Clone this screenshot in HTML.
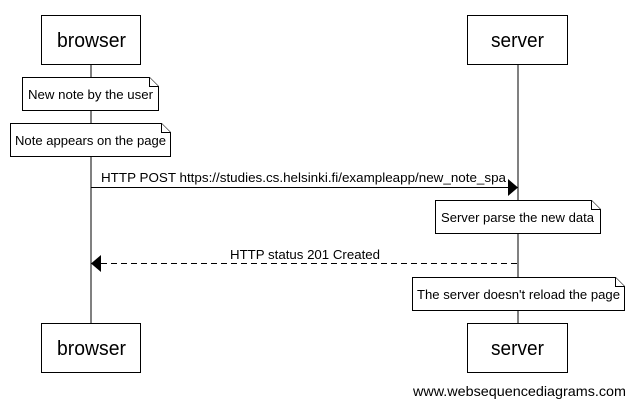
<!DOCTYPE html>
<html><head><style>
body{margin:0;background:#fff;}
</style></head><body>
<svg width="634" height="407" xmlns="http://www.w3.org/2000/svg" font-family="Liberation Sans, Arial, sans-serif">
<g stroke="#000" fill="none">
<line x1="91" y1="64" x2="91" y2="323"/>
<line x1="518" y1="64" x2="518" y2="323"/>
</g>
<g stroke="#000" fill="#fff">
<rect x="41.5" y="15.5" width="99" height="49"/>
<rect x="467.5" y="15.5" width="100" height="49"/>
<rect x="41.5" y="323.5" width="99" height="49"/>
<rect x="467.5" y="323.5" width="100" height="49"/>
<path d="M22.5 77.5 H149.5 L158.5 86.5 V110.5 H22.5 Z"/><path d="M149.5 77.5 V86.5 H158.5"/>
<path d="M10.5 123.5 H161.5 L170.5 132.5 V156.5 H10.5 Z"/><path d="M161.5 123.5 V132.5 H170.5"/>
<path d="M435.5 200.5 H591.5 L600.5 209.5 V233.5 H435.5 Z"/><path d="M591.5 200.5 V209.5 H600.5"/>
<path d="M412.5 277.5 H615.5 L624.5 286.5 V310.5 H412.5 Z"/><path d="M615.5 277.5 V286.5 H624.5"/>
</g>
<line x1="91" y1="187.5" x2="508" y2="187.5" stroke="#000"/>
<polygon points="508,179 518,187.5 508,196" fill="#000"/>
<line x1="101" y1="263.5" x2="518" y2="263.5" stroke="#000" stroke-dasharray="6,4"/>
<polygon points="101,255 91,263.5 101,272" fill="#000"/>
<g font-size="20">
<text x="57" y="47" textLength="69" lengthAdjust="spacingAndGlyphs">browser</text>
<text x="491" y="47" textLength="53" lengthAdjust="spacingAndGlyphs">server</text>
<text x="57" y="355" textLength="69" lengthAdjust="spacingAndGlyphs">browser</text>
<text x="491" y="355" textLength="53" lengthAdjust="spacingAndGlyphs">server</text>
</g>
<g font-size="13" lengthAdjust="spacingAndGlyphs">
<text x="28" y="99" textLength="125" lengthAdjust="spacingAndGlyphs">New note by the user</text>
<text x="15" y="145" textLength="151" lengthAdjust="spacingAndGlyphs">Note appears on the page</text>
<text x="101" y="182" textLength="405" lengthAdjust="spacingAndGlyphs">HTTP POST https://studies.cs.helsinki.fi/exampleapp/new_note_spa</text>
<text x="441" y="222" textLength="153" lengthAdjust="spacingAndGlyphs">Server parse the new data</text>
<text x="230" y="259" textLength="150" lengthAdjust="spacingAndGlyphs">HTTP status 201 Created</text>
<text x="417" y="299" textLength="203" lengthAdjust="spacingAndGlyphs">The server doesn't reload the page</text>
</g>
<text x="413" y="396" font-size="14" textLength="213" lengthAdjust="spacingAndGlyphs">www.websequencediagrams.com</text>
</svg>
</body></html>
